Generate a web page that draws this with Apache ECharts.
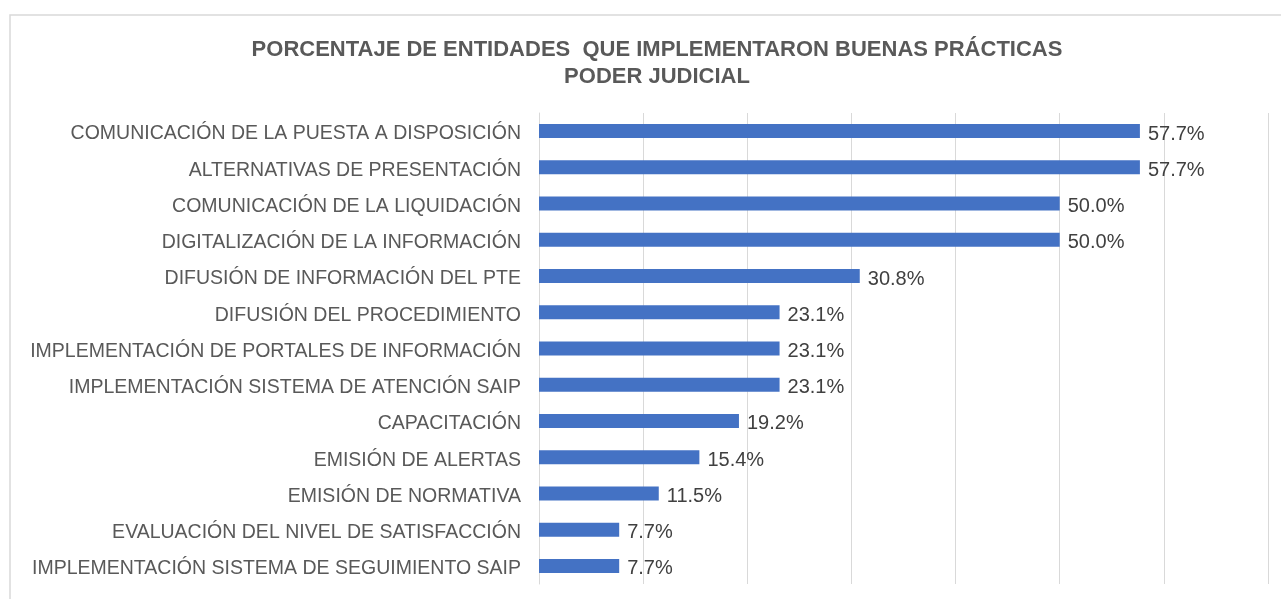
<!DOCTYPE html>
<html>
<head>
<meta charset="utf-8">
<script src="https://cdn.jsdelivr.net/npm/echarts@6/dist/echarts.min.js"></script>
<style>
  html, body { margin: 0; padding: 0; background: #fff; }
  #chart { width: 1281px; height: 599px; }
</style>
</head>
<body>
<div id="chart"></div>
<script>
// categorias (de arriba hacia abajo)
var categorias = [
  'COMUNICACIÓN DE LA PUESTA A DISPOSICIÓN',
  'ALTERNATIVAS DE PRESENTACIÓN',
  'COMUNICACIÓN DE LA LIQUIDACIÓN',
  'DIGITALIZACIÓN DE LA INFORMACIÓN',
  'DIFUSIÓN DE INFORMACIÓN DEL PTE',
  'DIFUSIÓN DEL PROCEDIMIENTO',
  'IMPLEMENTACIÓN DE PORTALES DE INFORMACIÓN',
  'IMPLEMENTACIÓN SISTEMA DE ATENCIÓN SAIP',
  'CAPACITACIÓN',
  'EMISIÓN DE ALERTAS',
  'EMISIÓN DE NORMATIVA',
  'EVALUACIÓN DEL NIVEL DE SATISFACCIÓN',
  'IMPLEMENTACIÓN SISTEMA DE SEGUIMIENTO SAIP'
];

// porcentajes
var valores = [57.7, 57.7, 50.0, 50.0, 30.8, 23.1, 23.1, 23.1, 19.2, 15.4, 11.5, 7.7, 7.7];

var titulo = 'PORCENTAJE DE ENTIDADES  QUE IMPLEMENTARON BUENAS PRÁCTICAS\nPODER JUDICIAL';

var chart = echarts.init(document.getElementById('chart'));

chart.setOption({
  animation: false,
  backgroundColor: '#fff',
  textStyle: { fontFamily: 'Liberation Sans, Arial, sans-serif' },
  graphic: [{
    type: 'rect',
    shape: { x: 10, y: 15, width: 1290, height: 600 },
    style: { fill: 'none', stroke: '#d9d9d9', lineWidth: 1.5 },
    silent: true
  }],
  title: {
    text: titulo,
    left: 652,
    top: 31,
    textAlign: 'center',
    textStyle: {
      color: '#595959',
      fontSize: 22,
      fontWeight: 'bold',
      lineHeight: 27,
      fontFamily: 'Liberation Sans, Arial, sans-serif'
    }
  },
  grid: { left: 539, right: 13, top: 113, bottom: 15, containLabel: false },
  xAxis: {
    type: 'value',
    min: 0,
    max: 70,
    interval: 10,
    axisLabel: { show: false },
    axisLine: { show: false },
    axisTick: { show: false },
    splitLine: { lineStyle: { color: '#d9d9d9', width: 1 } }
  },
  yAxis: {
    type: 'category',
    inverse: true,
    data: categorias,
    axisLine: { show: true, lineStyle: { color: '#d9d9d9', width: 1 } },
    axisTick: { show: false },
    axisLabel: {
      color: '#595959',
      fontSize: 19.5,
      margin: 18,
      verticalAlign: 'top',
      lineHeight: 6
    }
  },
  series: [{
    type: 'bar',
    data: valores,
    barWidth: 14,
    itemStyle: { color: '#4472c4' },
    label: {
      show: true,
      position: 'right',
      distance: 8,
      offset: [0, 3],
      color: '#404040',
      fontSize: 20,
      formatter: function (p) { return p.value.toFixed(1) + '%'; }
    }
  }]
});
</script>
</body>
</html>
